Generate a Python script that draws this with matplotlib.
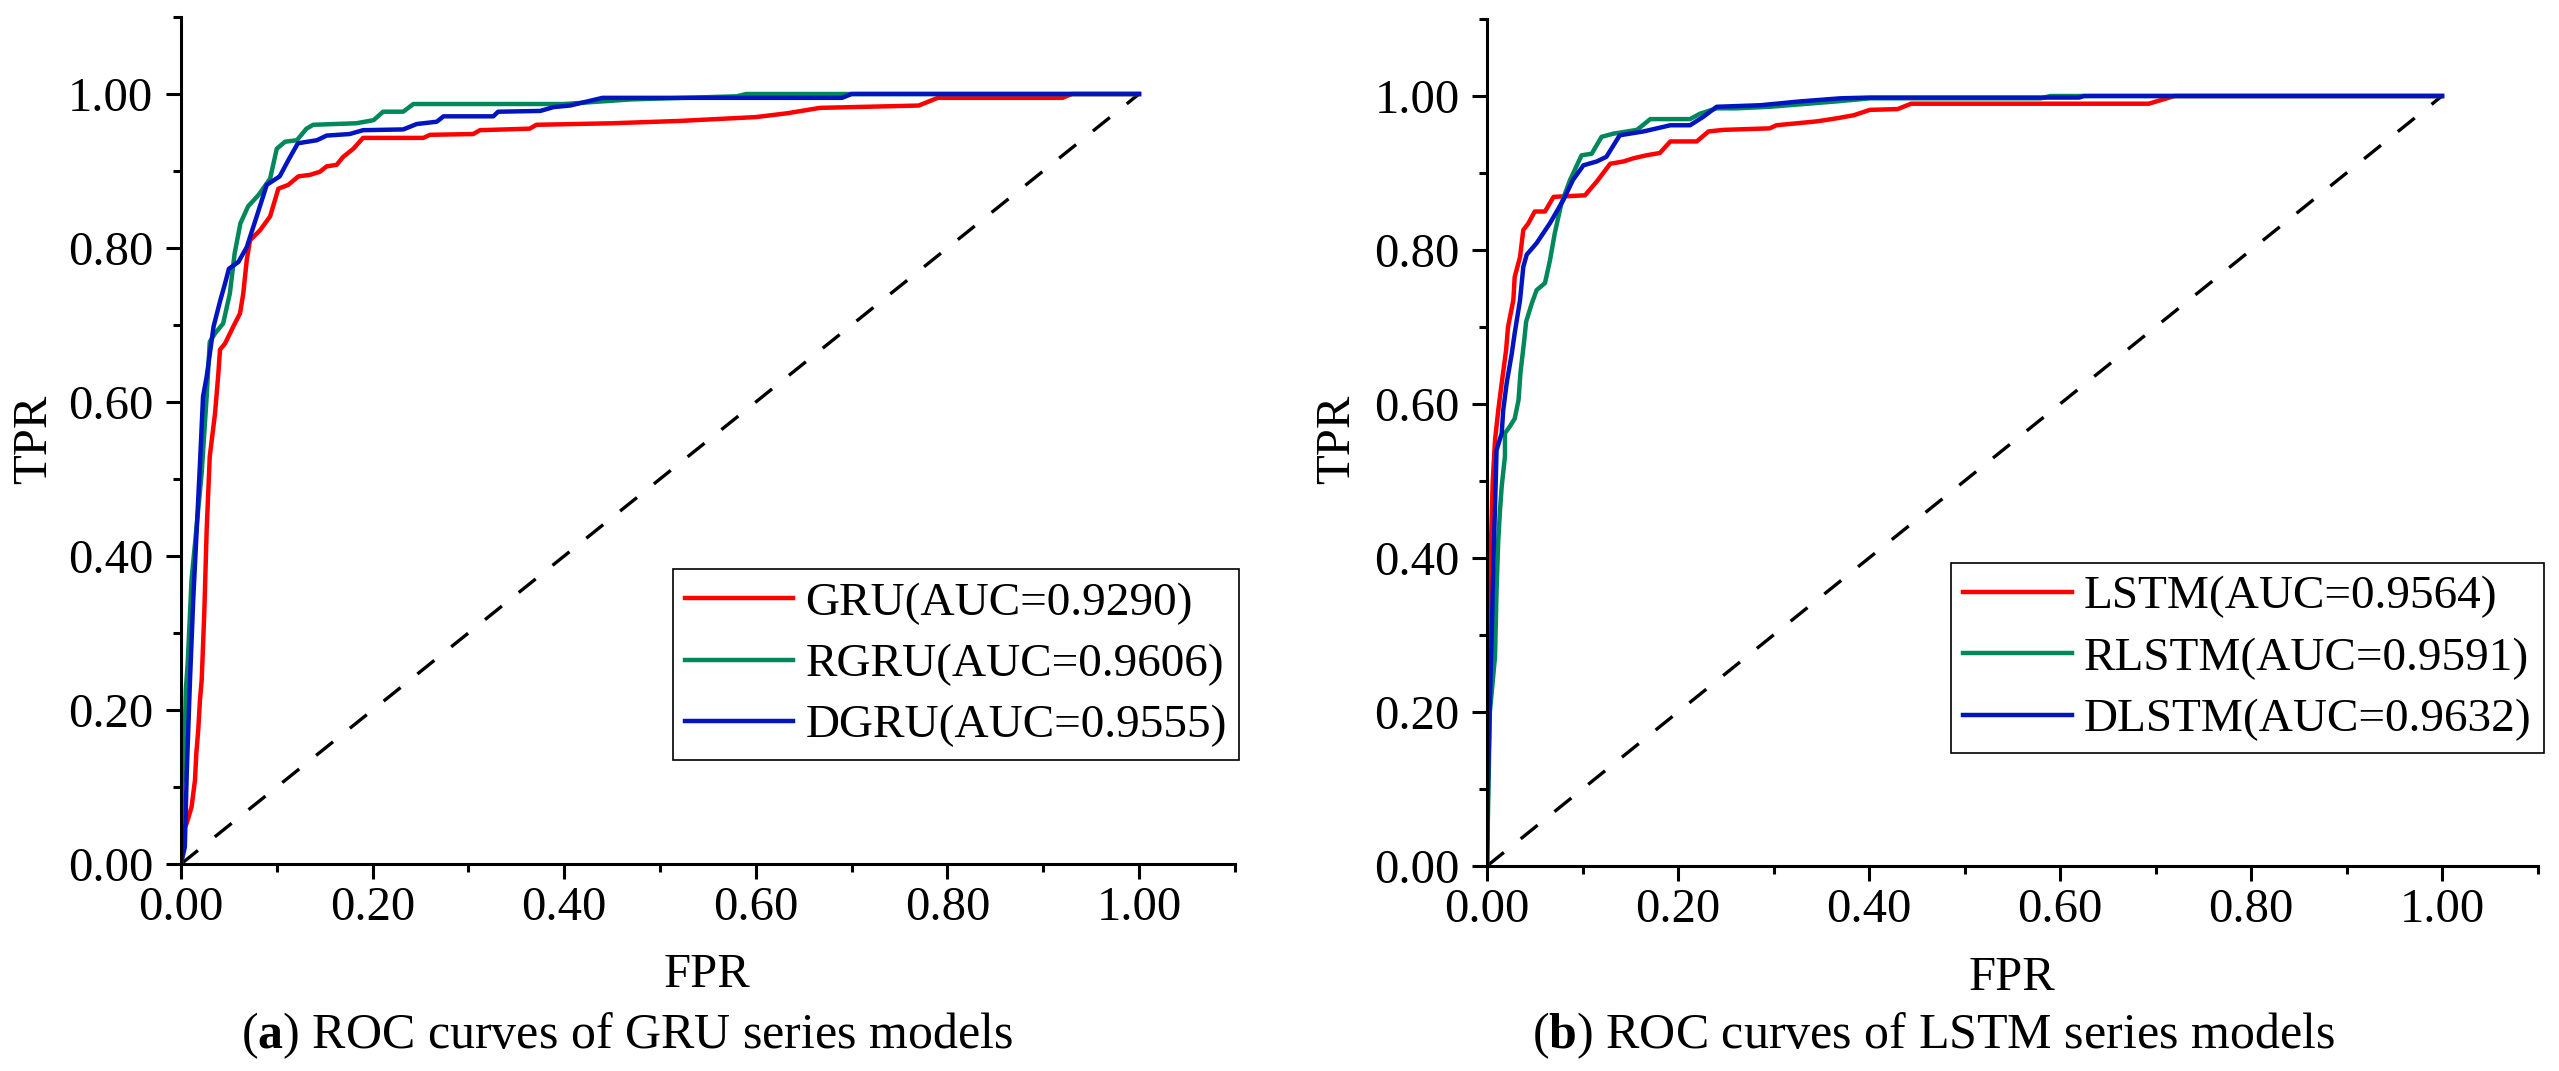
import matplotlib
matplotlib.use("Agg")
import matplotlib.pyplot as plt
import numpy as np

plt.rcParams['font.family'] = ['Liberation Serif', 'DejaVu Serif']
plt.rcParams['mathtext.fontset'] = 'custom'
plt.rcParams['mathtext.rm'] = 'Liberation Serif'
plt.rcParams['mathtext.bf'] = 'Liberation Serif:bold'

# ---- data (FPR, TPR) ----
gru_fpr = [0, 0.004, 0.006, 0.011, 0.0146, 0.016, 0.018, 0.0198, 0.0216, 0.0243, 0.0268, 0.030,
           0.0355, 0.039, 0.0407, 0.046, 0.0546, 0.0616, 0.065, 0.0686, 0.072, 0.0825, 0.093, 0.1016,
           0.112, 0.1225, 0.1347, 0.145, 0.152, 0.1625, 0.169, 0.18, 0.19, 0.253, 0.26, 0.305, 0.312,
           0.364, 0.371, 0.45, 0.52, 0.60, 0.633, 0.667, 0.77, 0.79, 0.92, 0.93, 1.0]
gru_tpr = [0, 0.048, 0.053, 0.074, 0.109, 0.144, 0.174, 0.213, 0.239, 0.326, 0.434, 0.529,
           0.585, 0.637, 0.668, 0.676, 0.698, 0.715, 0.741, 0.784, 0.81, 0.823, 0.841, 0.877,
           0.882, 0.893, 0.895, 0.899, 0.906, 0.908, 0.918, 0.929, 0.943, 0.943, 0.947, 0.948, 0.953,
           0.955, 0.96, 0.962, 0.965, 0.97, 0.975, 0.982, 0.985, 0.995, 0.995, 1.0, 1.0]

rgru_fpr = [0, 0.001, 0.003, 0.004, 0.005, 0.007, 0.011, 0.0216, 0.0268, 0.030, 0.0355, 0.044,
            0.051, 0.056, 0.062, 0.07, 0.081, 0.093, 0.1, 0.1086, 0.121, 0.131, 0.138, 0.183, 0.201,
            0.211, 0.232, 0.2425, 0.40, 0.47, 0.58, 0.59, 1.0]
rgru_tpr = [0, 0.10, 0.122, 0.17, 0.226, 0.261, 0.369, 0.508, 0.607, 0.678, 0.689, 0.702,
            0.741, 0.793, 0.832, 0.854, 0.869, 0.89, 0.929, 0.938, 0.94, 0.955, 0.96, 0.962, 0.966,
            0.977, 0.977, 0.987, 0.987, 0.993, 0.997, 1.0, 1.0]

dgru_fpr = [0, 0.004, 0.006, 0.0094, 0.0129, 0.0164, 0.0198, 0.023, 0.0268, 0.034, 0.041, 0.046,
            0.05, 0.06, 0.0686, 0.079, 0.0895, 0.103, 0.112, 0.122, 0.142, 0.152, 0.176, 0.19, 0.232,
            0.246, 0.267, 0.274, 0.326, 0.331, 0.375, 0.389, 0.406, 0.44, 0.69, 0.70, 1.0]
dgru_tpr = [0, 0.022, 0.118, 0.239, 0.347, 0.434, 0.52, 0.607, 0.633, 0.698, 0.732, 0.754,
            0.773, 0.782, 0.801, 0.841, 0.882, 0.893, 0.914, 0.936, 0.94, 0.946, 0.948, 0.953, 0.954,
            0.961, 0.964, 0.971, 0.971, 0.977, 0.978, 0.983, 0.985, 0.995, 0.995, 1.0, 1.0]

lstm_fpr = [0, 0.001, 0.0024, 0.004, 0.006, 0.0084, 0.0118, 0.0154, 0.02, 0.022, 0.0276, 0.029,
            0.0346, 0.038, 0.043, 0.05, 0.0607, 0.0697, 0.1026, 0.115, 0.129, 0.143, 0.153, 0.167,
            0.181, 0.192, 0.2196, 0.232, 0.2475, 0.296, 0.303, 0.345, 0.366, 0.384, 0.401, 0.43,
            0.444, 0.693, 0.72, 1.0]
lstm_tpr = [0, 0.29, 0.30, 0.41, 0.50, 0.553, 0.592, 0.627, 0.67, 0.70, 0.735, 0.765,
            0.791, 0.826, 0.834, 0.85, 0.85, 0.869, 0.871, 0.889, 0.912, 0.915, 0.919, 0.923,
            0.926, 0.941, 0.941, 0.954, 0.956, 0.958, 0.962, 0.967, 0.971, 0.975, 0.982, 0.983,
            0.99, 0.99, 1.0, 1.0]

rlstm_fpr = [0, 0.003, 0.0084, 0.01, 0.0118, 0.0136, 0.0154, 0.0188, 0.0188, 0.024, 0.029, 0.033,
             0.035, 0.039, 0.041, 0.047, 0.052, 0.0607, 0.066, 0.071, 0.078, 0.087, 0.099, 0.1096,
             0.12, 0.132, 0.157, 0.171, 0.2126, 0.223, 0.2405, 0.261, 0.296, 0.366, 0.401, 0.58,
             0.59, 1.0]
rlstm_tpr = [0, 0.20, 0.272, 0.358, 0.423, 0.462, 0.493, 0.532, 0.562, 0.571, 0.581, 0.605,
             0.64, 0.683, 0.707, 0.731, 0.748, 0.757, 0.787, 0.822, 0.861, 0.891, 0.923, 0.925,
             0.947, 0.951, 0.956, 0.97, 0.97, 0.977, 0.984, 0.984, 0.986, 0.993, 0.997, 0.997,
             1.0, 1.0]

dlstm_fpr = [0, 0.001, 0.003, 0.005, 0.0066, 0.009, 0.01, 0.0154, 0.017, 0.0206, 0.026, 0.029,
             0.0346, 0.038, 0.0416, 0.052, 0.066, 0.08, 0.09, 0.101, 0.115, 0.125, 0.139, 0.164,
             0.178, 0.192, 0.2126, 0.2265, 0.2405, 0.286, 0.328, 0.37, 0.401, 0.62, 0.625, 1.0]
dlstm_tpr = [0, 0.10, 0.216, 0.302, 0.389, 0.493, 0.54, 0.562, 0.592, 0.627, 0.666, 0.692,
             0.735, 0.778, 0.794, 0.809, 0.835, 0.865, 0.891, 0.91, 0.915, 0.921, 0.949, 0.954,
             0.958, 0.962, 0.962, 0.973, 0.986, 0.988, 0.993, 0.997, 0.998, 0.998, 1.0, 1.0]

labels_a = ['GRU(AUC=0.9290)', 'RGRU(AUC=0.9606)', 'DGRU(AUC=0.9555)']
labels_b = ['LSTM(AUC=0.9564)', 'RLSTM(AUC=0.9591)', 'DLSTM(AUC=0.9632)']
captions = [r'($\mathbf{a}$) ROC curves of GRU series models',
            r'($\mathbf{b}$) ROC curves of LSTM series models']
ticks = [0, 0.2, 0.4, 0.6, 0.8, 1.0]

colors = ['#ff0000', '#00875a', '#0014c0']

W, H = 2559, 1071
fig = plt.figure(figsize=(W / 100, H / 100), dpi=100)

ax1 = fig.add_axes([181 / W, 1 - 864 / H, 1053.8 / W, 847 / H])
ax2 = fig.add_axes([1487 / W, 1 - 866 / H, 1050.5 / W, 847 / H])


def style(ax):
    ax.set_xlim(0, 1.1)
    ax.set_ylim(0, 1.1)
    for s in ['top', 'right']:
        ax.spines[s].set_visible(False)
    for s in ['left', 'bottom']:
        ax.spines[s].set_linewidth(2.2)
    ax.set_xticks(ticks)
    ax.set_yticks(ticks)
    ax.set_xticks(np.arange(0.1, 1.11, 0.2), minor=True)
    ax.set_yticks(np.arange(0.1, 1.11, 0.2), minor=True)
    ax.xaxis.set_major_formatter(matplotlib.ticker.FormatStrFormatter('%.2f'))
    ax.yaxis.set_major_formatter(matplotlib.ticker.FormatStrFormatter('%.2f'))
    ax.tick_params(which='major', direction='out', length=10.8, width=2.2, labelsize=35)
    ax.tick_params(which='minor', direction='out', length=5.8, width=2.2)
    ax.tick_params(axis='x', which='major', pad=5)
    ax.tick_params(axis='y', which='major', pad=9)


style(ax1)
style(ax2)

ax1.plot([0, 1], [0, 1], color='black', lw=2.4, linestyle=(0, (6.5, 6.5)))
ax1.plot(gru_fpr, gru_tpr, color=colors[0], lw=3.2, label=labels_a[0])
ax1.plot(rgru_fpr, rgru_tpr, color=colors[1], lw=3.2, label=labels_a[1])
ax1.plot(dgru_fpr, dgru_tpr, color=colors[2], lw=3.2, label=labels_a[2])

ax2.plot([0, 1], [0, 1], color='black', lw=2.4, linestyle=(0, (6.5, 6.5)))
ax2.plot(lstm_fpr, lstm_tpr, color=colors[0], lw=3.2, label=labels_b[0])
ax2.plot(rlstm_fpr, rlstm_tpr, color=colors[1], lw=3.2, label=labels_b[1])
ax2.plot(dlstm_fpr, dlstm_tpr, color=colors[2], lw=3.2, label=labels_b[2])

for ax, anchor in [(ax1, (1.004, 0.123)), (ax2, (1.006, 0.133))]:
    h, l = ax.get_legend_handles_labels()
    leg = ax.legend(h[-3:], l[-3:], loc='lower right', bbox_to_anchor=anchor, borderaxespad=0,
                    fontsize=34, handlelength=2.3, handletextpad=0.25, labelspacing=0.39,
                    borderpad=0.26, fancybox=False, framealpha=1, edgecolor='black')
    leg.get_frame().set_linewidth(1.2)

fig.text(707 / W, 1 - 975 / H, 'FPR', fontsize=35, ha='center', va='center')
fig.text(2012 / W, 1 - 978 / H, 'FPR', fontsize=35, ha='center', va='center')
fig.text(34 / W, 1 - 439 / H, 'TPR', fontsize=35, ha='center', va='center', rotation=90)
fig.text(1337 / W, 1 - 439 / H, 'TPR', fontsize=35, ha='center', va='center', rotation=90)

fig.text(627 / W, 1 - 1036 / H, captions[0], fontsize=36, ha='center', va='center')
fig.text(1933.5 / W, 1 - 1036 / H, captions[1], fontsize=36, ha='center', va='center')

fig.savefig('out.png', dpi=100)
